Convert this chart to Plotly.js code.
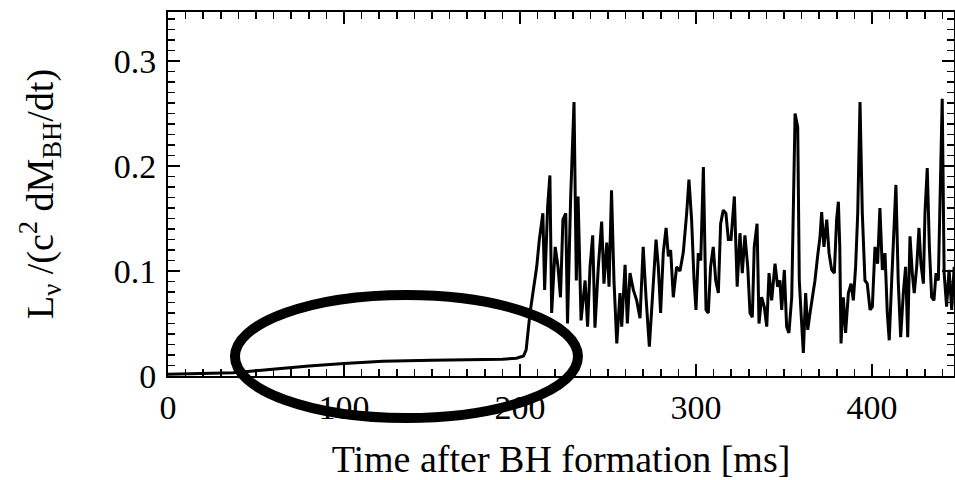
<!DOCTYPE html>
<html>
<head>
<meta charset="utf-8">
<script src="https://cdn.plot.ly/plotly-3.0.1.min.js"></script>
<style>html,body{margin:0;padding:0;background:#fff;}#chart{width:955px;height:480px;}</style>
</head>
<body>
<div id="chart"></div>
<script>
// Time after BH formation [ms]
const timeMs = [
  0, 10, 20, 30, 37, 50, 65, 80, 100, 122, 150, 179, 190, 198, 202, 203.5, 205.7,
  209.5, 211, 213, 214, 215.7, 217, 218, 220, 221.6, 223, 224.4, 226, 227, 228.8, 230.7,
  232, 233, 234.7, 237, 238.4, 239.8, 241.3, 242.6, 244.5, 246.4, 247.7, 249.3, 250.6, 252,
  253.4, 255, 256.8, 257.8, 259.7, 261, 262.5, 264.4, 266.3, 268.2, 270, 271.6, 273.5, 275.4,
  277.3, 278.6, 279.9, 281.4, 283, 284.3, 285.6, 287.1, 289, 290.9, 292.8, 294.7, 296, 297.5,
  298.9, 300, 301.3, 302.7, 304.2, 305.7, 307, 308.3, 309.8, 311.2, 312.7, 314, 315.5, 317,
  318.4, 319.9, 321.8, 323.4, 325, 326.3, 327.8, 329.4, 330.7, 332, 333.1, 334.7, 335.8, 337.3,
  338.8, 340.2, 341.5, 343, 344.9, 346.4, 347.7, 348.7, 350.2, 351.5, 352.8, 354.4, 355.3, 356.3,
  357.8, 358.7, 359.7, 361, 362.3, 363.5, 364.8, 366.1, 367.6, 369.1, 370.5, 371.4, 372.7, 374.3,
  375.6, 377.1, 378.6, 379.9, 380.9, 381.7, 382.4, 383.7, 385, 386.6, 388.1, 389.4, 390.7, 391.9,
  393.2, 394.5, 396, 397.3, 398.9, 400.2, 401.7, 403.2, 404.5, 405.9, 407.4, 408.7, 409.8, 411.2,
  412.5, 413.6, 414.9, 416.3, 417.8, 419.1, 420.3, 421.6, 422.9, 424, 425.4, 426.7, 427.8, 429.2,
  430.1, 431.4, 432.6, 433.9, 435.2, 436.4, 437.7, 438.8, 439.9, 441, 442.4, 443.8, 445.3, 446.7
];
// L_nu / (c^2 dM_BH/dt)
const lumRatio = [
  0.0016, 0.0018, 0.002, 0.0025, 0.003, 0.005, 0.0075, 0.0095, 0.012, 0.014, 0.015, 0.0155, 0.016, 0.017, 0.019, 0.025, 0.06,
  0.104, 0.13, 0.155, 0.082, 0.161, 0.191, 0.06, 0.123, 0.104, 0.075, 0.149, 0.155, 0.05, 0.171, 0.261,
  0.091, 0.171, 0.053, 0.091, 0.047, 0.104, 0.134, 0.046, 0.104, 0.147, 0.088, 0.127, 0.085, 0.177,
  0.091, 0.031, 0.079, 0.047, 0.106, 0.05, 0.098, 0.082, 0.072, 0.055, 0.123, 0.075, 0.028, 0.079,
  0.13, 0.104, 0.06, 0.117, 0.141, 0.114, 0.12, 0.075, 0.104, 0.1, 0.118, 0.155, 0.187, 0.149,
  0.091, 0.063, 0.117, 0.11, 0.199, 0.063, 0.06, 0.104, 0.123, 0.091, 0.079, 0.145, 0.158, 0.155,
  0.13, 0.13, 0.171, 0.085, 0.136, 0.098, 0.134, 0.104, 0.06, 0.056, 0.123, 0.145, 0.05, 0.075,
  0.066, 0.047, 0.098, 0.072, 0.107, 0.085, 0.091, 0.063, 0.101, 0.047, 0.041, 0.075, 0.155, 0.25,
  0.237, 0.091, 0.06, 0.022, 0.079, 0.044, 0.06, 0.075, 0.091, 0.114, 0.133, 0.156, 0.123, 0.149,
  0.117, 0.101, 0.098, 0.149, 0.166, 0.123, 0.031, 0.075, 0.041, 0.079, 0.088, 0.072, 0.104, 0.155,
  0.261, 0.155, 0.091, 0.088, 0.063, 0.066, 0.123, 0.107, 0.16, 0.101, 0.117, 0.06, 0.034, 0.091,
  0.149, 0.182, 0.091, 0.037, 0.079, 0.104, 0.037, 0.133, 0.098, 0.079, 0.104, 0.141, 0.107, 0.088,
  0.155, 0.198, 0.123, 0.075, 0.072, 0.098, 0.091, 0.187, 0.264, 0.098, 0.066, 0.101, 0.063, 0.104
];
const xTickVals = [0, 100, 200, 300, 400];
const yTickVals = [0, 0.1, 0.2, 0.3];
const yTickText = ['0', '0.1', '0.2', '0.3'];

const FONT = 'Liberation Serif, Times New Roman, serif';

const trace = {
  x: timeMs, y: lumRatio, type: 'scatter', mode: 'lines',
  line: {color: '#000', width: 3}, hoverinfo: 'skip'
};

const axisCommon = {
  showgrid: false, zeroline: false, showline: true, linecolor: '#000', linewidth: 2,
  mirror: 'allticks', ticks: 'inside', ticklen: 12, tickwidth: 2, tickcolor: '#000',
  tickfont: {family: FONT, size: 34, color: '#000'}
};

const layout = {
  width: 955, height: 480,
  margin: {l: 168, r: 1, t: 12, b: 104},
  paper_bgcolor: '#fff', plot_bgcolor: '#fff',
  showlegend: false,
  font: {family: FONT, color: '#000'},
  xaxis: Object.assign({}, axisCommon, {
    range: [0, 446.6], tickmode: 'array', tickvals: xTickVals,
    minor: {dtick: 10, ticklen: 7, tickwidth: 1.5, tickcolor: '#000', ticks: 'inside'},
    title: {text: 'Time after BH formation [ms]', font: {family: FONT, size: 38, color: '#000'}, standoff: 21}
  }),
  yaxis: Object.assign({}, axisCommon, {
    range: [0, 0.3467], tickmode: 'array', tickvals: yTickVals, ticktext: yTickText,
    ticklabelstandoff: 3,
    minor: {dtick: 0.01, ticklen: 7, tickwidth: 1.5, tickcolor: '#000', ticks: 'inside'},
    title: {text: 'L<sub>ν</sub> /(c<sup>2</sup> dM<sub>BH</sub>/dt)', font: {family: FONT, size: 38, color: '#000'}, standoff: 48}
  }),
  shapes: [{
    type: 'circle', xref: 'paper', yref: 'paper', layer: 'above',
    x0: 0.0852, x1: 0.5216, y0: -0.1154, y1: 0.2225,
    line: {color: '#000', width: 10}, fillcolor: 'rgba(0,0,0,0)'
  }]
};

Plotly.newPlot('chart', [trace], layout, {staticPlot: true, displayModeBar: false});
</script>
</body>
</html>
